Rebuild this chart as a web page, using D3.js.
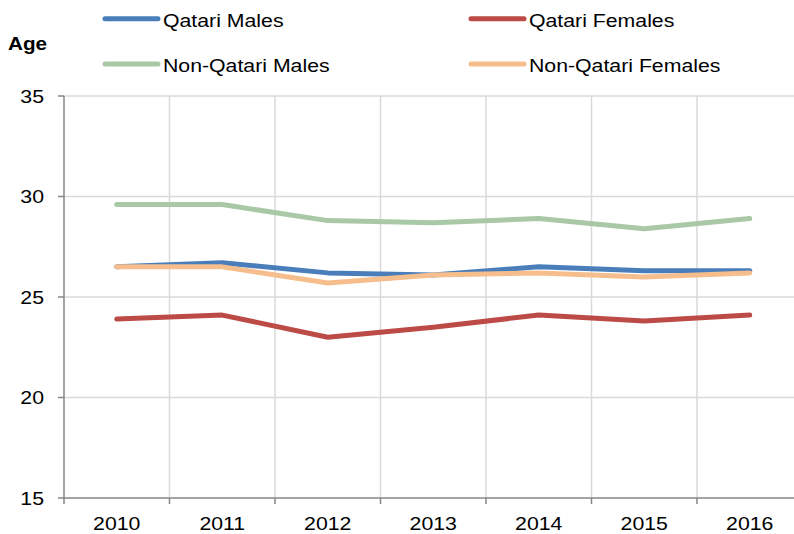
<!DOCTYPE html>
<html>
<head>
<meta charset="utf-8">
<script src="https://cdn.jsdelivr.net/npm/d3@7"></script>
<style>
  body { margin: 0; background: #fff; }
  svg { display: block; font-family: "Liberation Sans", Arial, sans-serif; }
</style>
</head>
<body>
<svg id="chart" width="794" height="534"></svg>
<script>
const years = ['2010', '2011', '2012', '2013', '2014', '2015', '2016']
const yTicks = [15, 20, 25, 30, 35]

const qatariMales = [26.5, 26.7, 26.2, 26.1, 26.5, 26.3, 26.3]
const qatariFemales = [23.9, 24.1, 23.0, 23.5, 24.1, 23.8, 24.1]
const nonQatariMales = [29.6, 29.6, 28.8, 28.7, 28.9, 28.4, 28.9]
const nonQatariFemales = [26.5, 26.5, 25.7, 26.1, 26.2, 26.0, 26.2]

const series = [
  { name: 'Qatari Males', values: qatariMales, color: '#4a7ebb' },
  { name: 'Qatari Females', values: qatariFemales, color: '#bc4b47' },
  { name: 'Non-Qatari Males', values: nonQatariMales, color: '#a9c8a5' },
  { name: 'Non-Qatari Females', values: nonQatariFemales, color: '#f6be8c' }
]

const FONT_SIZE = 18.5
const STRETCH = 1.15
const axisColor = '#868686'
const gridColor = '#d9d9d9'

const svg = d3.select('#chart')

const x = d3.scaleBand().domain(years).range([64, 802.5]).padding(0)
const y = d3.scaleLinear().domain([15, 35]).range([498, 96])

// the picture is a bit wider than tall, so text gets stretched sideways
function label (g, tx, ty, str, anchor, weight) {
  return g.append('text')
    .attr('transform', `translate(${tx},${ty}) scale(${STRETCH},1)`)
    .attr('text-anchor', anchor || 'start')
    .attr('font-size', FONT_SIZE)
    .attr('font-weight', weight || 'normal')
    .attr('fill', '#000')
    .text(str)
}

// grid
const grid = svg.append('g')
grid.selectAll('.hgrid')
  .data(yTicks.slice(1))
  .enter()
  .append('line')
  .attr('x1', 64)
  .attr('x2', 794)
  .attr('y1', d => y(d))
  .attr('y2', d => y(d))
  .attr('stroke', gridColor)
  .attr('stroke-width', 1.5)
grid.selectAll('.vgrid')
  .data(years.slice(1))
  .enter()
  .append('line')
  .attr('x1', d => x(d))
  .attr('x2', d => x(d))
  .attr('y1', y(35))
  .attr('y2', y(15))
  .attr('stroke', gridColor)
  .attr('stroke-width', 1.5)

// y axis
const yAxis = svg.append('g')
yAxis.append('line')
  .attr('x1', 64).attr('x2', 64)
  .attr('y1', y(35)).attr('y2', y(15))
  .attr('stroke', axisColor).attr('stroke-width', 1.5)
yAxis.selectAll('.ytick')
  .data(yTicks)
  .enter()
  .append('line')
  .attr('x1', 58).attr('x2', 64)
  .attr('y1', d => y(d)).attr('y2', d => y(d))
  .attr('stroke', axisColor).attr('stroke-width', 1.5)
yTicks.forEach(t => {
  label(yAxis, 44, y(t) + 6.5, String(t), 'end')
})

// x axis
const xAxis = svg.append('g')
xAxis.append('line')
  .attr('x1', 64).attr('x2', 794)
  .attr('y1', y(15)).attr('y2', y(15))
  .attr('stroke', axisColor).attr('stroke-width', 1.5)
xAxis.selectAll('.xtick')
  .data(years)
  .enter()
  .append('line')
  .attr('x1', d => x(d)).attr('x2', d => x(d))
  .attr('y1', y(15)).attr('y2', y(15) + 6)
  .attr('stroke', axisColor).attr('stroke-width', 1.5)
years.forEach(yr => {
  label(xAxis, x(yr) + x.bandwidth() / 2, 529.5, yr, 'middle')
})

// lines
const line = d3.line()
  .x((d, i) => x(years[i]) + x.bandwidth() / 2)
  .y(d => y(d))

svg.append('g')
  .selectAll('path')
  .data(series)
  .enter()
  .append('path')
  .attr('d', d => line(d.values))
  .attr('fill', 'none')
  .attr('stroke', d => d.color)
  .attr('stroke-width', 5)
  .attr('stroke-linecap', 'round')
  .attr('stroke-linejoin', 'round')

// legend
const legendPos = [[105, 18.7], [471, 18.7], [105, 64], [471, 64]]
const legend = svg.append('g')
series.forEach((s, i) => {
  const [lx, ly] = legendPos[i]
  legend.append('line')
    .attr('x1', lx).attr('x2', lx + 53)
    .attr('y1', ly).attr('y2', ly)
    .attr('stroke', s.color)
    .attr('stroke-width', 5)
    .attr('stroke-linecap', 'round')
  label(legend, lx + 58, ly + 8, s.name)
})

// axis title
label(svg, 8, 50, 'Age', 'start', 'bold').attr('font-size', 18)
</script>
</body>
</html>
